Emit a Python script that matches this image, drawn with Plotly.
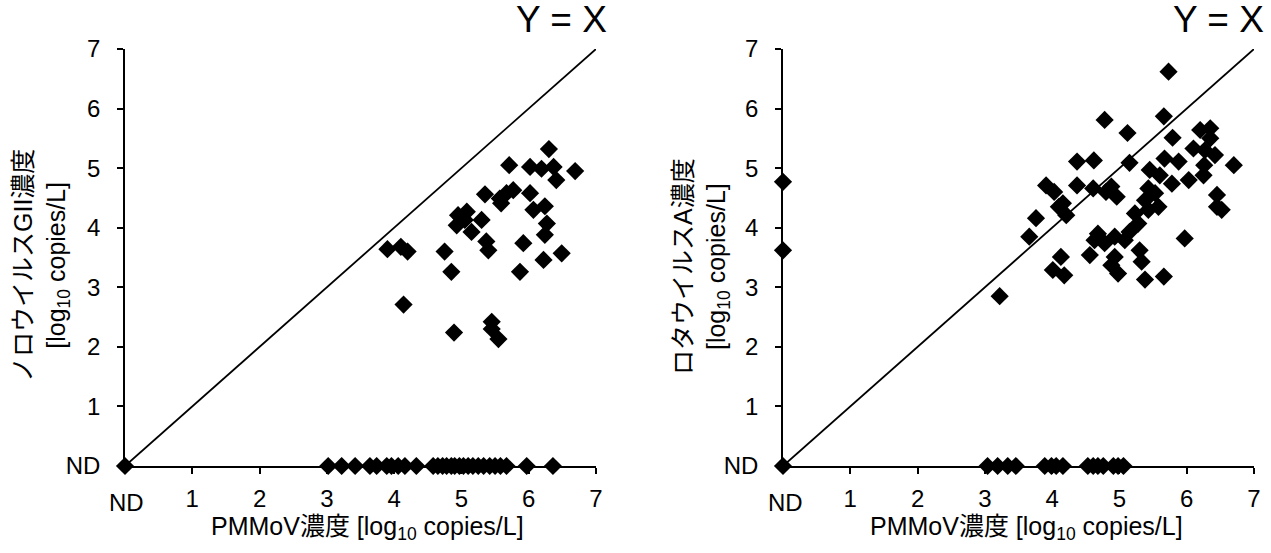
import plotly.graph_objects as go

# ---------------- data ----------------
# Norovirus GII vs PMMoV (ND plotted as 0)
nov_pmmov = [0.0, 3.90, 4.10, 4.20, 4.14, 4.75, 4.85, 4.89, 5.45, 5.45, 5.55, 5.87, 5.92,
             6.22, 6.49, 6.24, 6.27, 6.24, 6.07, 6.02, 5.35, 5.30, 5.37, 5.40, 5.15,
             5.08, 4.95, 4.93, 5.05, 5.00, 5.57, 5.67, 5.77, 5.59, 5.71, 6.02, 6.19,
             6.30, 6.37, 6.41, 6.69]
nov_conc = [0.0, 3.64, 3.68, 3.60, 2.71, 3.60, 3.26, 2.24, 2.42, 2.30, 2.13, 3.26, 3.74,
            3.46, 3.57, 3.88, 4.07, 4.36, 4.30, 4.58, 4.56, 4.13, 3.77, 3.62, 3.93,
            4.27, 4.21, 4.04, 4.13, 4.16, 4.49, 4.58, 4.63, 4.41, 5.05, 5.02, 4.99,
            5.32, 5.02, 4.80, 4.95]
# Norovirus ND samples (PMMoV detected)
nov_nd_pmmov = [3.02, 3.22, 3.42, 3.64, 3.74, 3.89, 3.96, 4.06, 4.16, 4.33, 4.58, 4.65,
                4.72, 4.78, 4.85, 4.90, 4.97, 5.03, 5.10, 5.17, 5.25, 5.33, 5.42, 5.50,
                5.58, 5.67, 5.97, 6.36]

# Rotavirus A vs PMMoV (ND plotted as 0)
rva_pmmov = [0.0, 0.0, 0.0, 3.22, 3.66, 3.76, 3.91, 4.03, 4.16, 4.10, 4.21, 4.13, 4.01,
             4.18, 4.37, 4.62, 4.37, 4.61, 4.78, 4.88, 4.80, 4.96, 4.68, 4.63, 4.78,
             4.93, 4.56, 4.93, 4.88, 4.98, 5.08, 5.15, 5.28, 5.23, 5.43, 5.58, 5.38,
             5.43, 5.53, 5.45, 5.60, 5.78, 5.67, 5.88, 5.15, 5.12, 5.66, 5.73, 5.79,
             6.20, 6.35, 6.35, 6.10, 6.27, 6.42, 6.70, 6.26, 6.25, 6.03, 5.97, 6.45,
             6.45, 6.52, 5.30, 5.33, 5.38, 5.66]
rva_conc = [0.0, 4.77, 3.62, 2.85, 3.85, 4.16, 4.71, 4.60, 4.41, 4.35, 4.21, 3.51, 3.29,
            3.20, 5.11, 5.13, 4.71, 4.66, 5.81, 4.69, 4.60, 4.52, 3.90, 3.79, 3.74,
            3.85, 3.54, 3.51, 3.37, 3.23, 3.79, 3.93, 4.07, 4.24, 4.30, 4.35, 4.46,
            4.66, 4.58, 4.97, 4.88, 4.74, 5.16, 5.11, 5.09, 5.59, 5.87, 6.62, 5.51,
            5.64, 5.67, 5.50, 5.33, 5.30, 5.22, 5.05, 5.05, 4.88, 4.80, 3.82, 4.55,
            4.35, 4.30, 3.62, 3.43, 3.13, 3.18]
rva_nd_pmmov = [3.04, 3.19, 3.34, 3.46, 3.89, 3.99, 4.06, 4.16, 4.53, 4.61, 4.68, 4.76,
                4.91, 4.98, 5.06]

diag = [0, 7]
x_tick_vals = [1, 2, 3, 4, 5, 6, 7]
x_tick_text = ["1", "2", "3", "4", "5", "6", "7"]
y_tick_vals = [0, 1, 2, 3, 4, 5, 6, 7]
y_tick_text = ["ND", "1", "2", "3", "4", "5", "6", "7"]

x_title = "PMMoV濃度 [log<sub>10</sub> copies/L]"
y_title_left = "ノロウイルスGII濃度<br>[log<sub>10</sub> copies/L]"
y_title_right = "ロタウイルスA濃度<br>[log<sub>10</sub> copies/L]"

# ---------------- figure ----------------
W, H = 1271, 553
FONT = "Arial, 'Liberation Sans', 'Noto Sans CJK JP', sans-serif"

fig = go.Figure()

def add_panel(xa, ya, xs, ys, nd_xs):
    fig.add_trace(go.Scatter(x=diag, y=diag, mode="lines",
                             line=dict(color="black", width=1.8),
                             xaxis=xa, yaxis=ya, showlegend=False, hoverinfo="skip"))
    mk = dict(symbol="diamond", size=14, color="black", line=dict(width=0))
    fig.add_trace(go.Scatter(x=nd_xs, y=[0] * len(nd_xs), mode="markers", marker=mk,
                             xaxis=xa, yaxis=ya, showlegend=False, cliponaxis=False))
    fig.add_trace(go.Scatter(x=xs, y=ys, mode="markers", marker=mk,
                             xaxis=xa, yaxis=ya, showlegend=False, cliponaxis=False))

add_panel("x", "y", nov_pmmov, nov_conc, nov_nd_pmmov)
add_panel("x2", "y2", rva_pmmov, rva_conc, rva_nd_pmmov)

y0 = (H - 466) / H
y1 = (H - 49) / H
axis_common = dict(range=[0, 7], showgrid=False, zeroline=False, showline=True,
                   linecolor="black", linewidth=1.5, ticks="outside", ticklen=6,
                   tickwidth=1.5, tickcolor="black", layer="below traces",
                   tickfont=dict(family=FONT, size=24, color="black"),
                   automargin=False, fixedrange=True)

fig.update_layout(
    width=W, height=H, autosize=False,
    margin=dict(l=0, r=0, t=0, b=0, pad=0, autoexpand=False),
    paper_bgcolor="white", plot_bgcolor="white",
    font=dict(family=FONT, color="black"),
    xaxis=dict(domain=[125 / W, 596 / W], anchor="y", tickvals=x_tick_vals,
               ticktext=x_tick_text, ticklabelstandoff=4, **axis_common),
    yaxis=dict(domain=[y0, y1], anchor="x", tickvals=y_tick_vals,
               ticktext=y_tick_text, ticklabelstandoff=12, **axis_common),
    xaxis2=dict(domain=[783 / W, 1254 / W], anchor="y2", tickvals=x_tick_vals,
                ticktext=x_tick_text, ticklabelstandoff=4, **axis_common),
    yaxis2=dict(domain=[y0, y1], anchor="x2", tickvals=y_tick_vals,
                ticktext=y_tick_text, ticklabelstandoff=12, **axis_common),
)

ann = []
def A(text, x, y, size=24, angle=0):
    ann.append(dict(text=text, x=x / W, y=(H - y) / H, xref="paper", yref="paper",
                    showarrow=False, textangle=angle, xanchor="center", yanchor="middle",
                    font=dict(family=FONT, size=size, color="black")))

# x-axis "ND" labels
A("ND", 127, 502)
A("ND", 785, 502)
# axis titles
A(x_title, 367, 528, size=25)
A(x_title, 1026, 528, size=25)
A(y_title_left, 41, 266, size=25, angle=-90)
A(y_title_right, 701, 267, size=25, angle=-90)
# Y = X labels
A("Y = X", 561, 19, size=37)
A("Y = X", 1218, 19, size=37)

fig.update_layout(annotations=ann)

fig.write_html("out.html", config={"responsive": False, "displayModeBar": False})
